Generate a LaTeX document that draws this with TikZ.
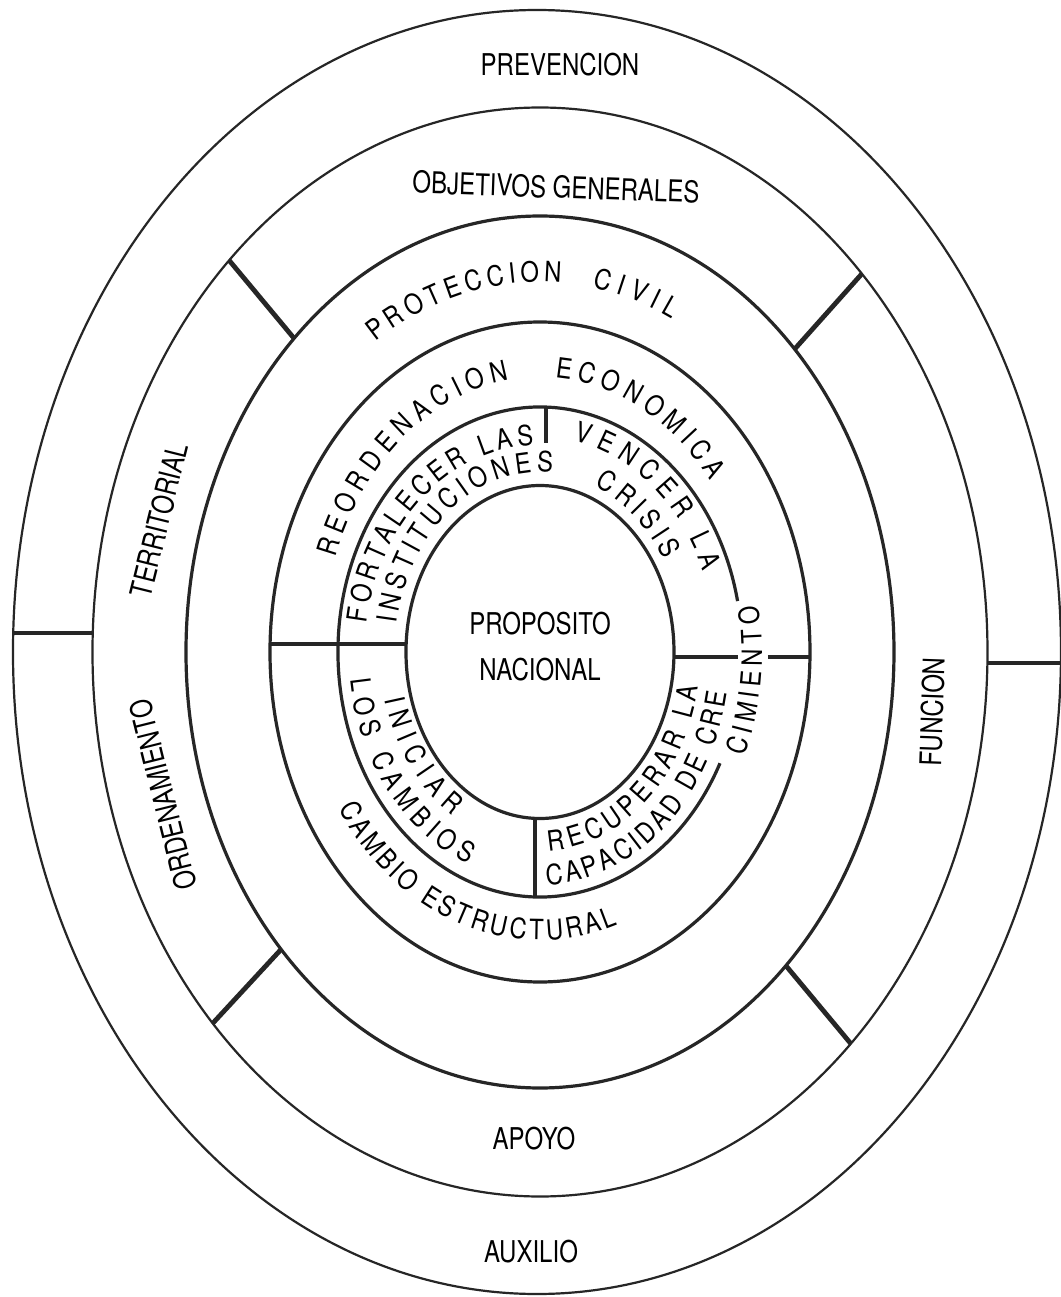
\documentclass[tikz,border=0pt]{standalone}
\usepackage{fontspec}
\newfontfamily\narrowfont[FakeStretch=0.8]{TeX Gyre Heros}
\newfontfamily\ringfont[FakeStretch=0.85]{TeX Gyre Heros}
\usetikzlibrary{decorations.text}
\newcommand\ringsize{\ringfont\fontsize{14}{16}\selectfont}
% text on an elliptic arc: x radius, y radius, start, end, text
\newcommand\ringtext[5]{%
  \path[decorate,decoration={text along path,text align=fit to path,
      text format delimiters={|}{|},text={|\ringsize|#5}}]
    (#3:#1 and #2) arc[start angle=#3,end angle=#4,x radius=#1,y radius=#2];}

\begin{document}
\begin{tikzpicture}[x=0.5pt,y=0.5pt,
  thin ring/.style={draw=black!85,line width=1.1pt},
  thick ring/.style={draw=black!85,line width=1.6pt},
  divider/.style={draw=black!85,line width=2.4pt},
  label/.style={font=\narrowfont\fontsize{15}{17}\selectfont,inner sep=0pt}]
  \useasboundingbox[fill=white] (-540,-645) rectangle (521,652);
  % rings
  \draw[thin ring] (-3,0) ellipse[x radius=524,y radius=642];
  \draw[thin ring] (0,0) ellipse[x radius=447.5,y radius=544.5];
  \draw[thick ring] (0,0) ellipse[x radius=354,y radius=436];
  \draw[thick ring] (0,0) ellipse[x radius=270,y radius=330];
  \draw[thick ring] (12:202 and 245) arc[start angle=12,end angle=333,x radius=202,y radius=245];
  \draw[thick ring] (0,0) ellipse[x radius=134,y radius=166.5];
  % dividers
  \draw[divider] (-527,19) -- (-448,19);
  \draw[divider] (447,-11) -- (521,-11);
  \foreach \a in {44,134,223,314}
    \draw[divider] (\a:447.5 and 544.5) -- (\a:354 and 436);
  \draw[divider] (-270,8) -- (-134,8);
  \draw[divider] (135,-5) -- (198,-5);
  \draw[divider] (228,-5) -- (270,-5);
  \draw[divider] (6,245) -- (6,209);
  \draw[divider] (-5,-166) -- (-5,-245);
  % straight labels
  \node[label] (prev) at (20,587) {PREVENCION};
  \node[label,rotate=-2] (obj) at (16,465) {OBJETIVOS GENERALES};
  \node[label,rotate=76] (terr) at (-381,132) {TERRITORIAL};
  \node[label,rotate=104] (orden) at (-377,-143) {ORDENAMIENTO};
  \node[label,rotate=88] (func) at (392,-60) {FUNCION};
  \node[label] (apoyo) at (-6,-487) {APOYO};
  \node[label] (aux) at (-9,-600) {AUXILIO};
  \node[label] (prop) at (0,28) {PROPOSITO};
  \node[label] (nac) at (0,-18) {NACIONAL};
  % curved labels
  \ringtext{302}{370}{123}{86}{PROTECCION}
  \ringtext{302}{370}{80}{64}{CIVIL}
  \ringtext{218}{275}{160}{98}{REORDENACION}
  \ringtext{218}{275}{86}{38.5}{ECONOMICA}
  \ringtext{240}{288}{213}{289}{CAMBIO ESTRUCTURAL}
  \ringtext{175}{207}{172}{92}{FORTALECER LAS}
  \ringtext{145}{180}{171}{85}{INSTITUCIONES}
  \ringtext{176}{215}{79}{22}{VENCER LA}
  \ringtext{145}{179}{68}{31}{CRISIS}
  \ringtext{160}{195}{194}{237}{INICIAR}
  \ringtext{191}{229}{187}{248}{LOS CAMBIOS}
  \ringtext{161}{199}{273}{350}{RECUPERAR LA}
  \ringtext{190}{233}{272}{350}{CAPACIDAD DE CRE}
  \ringtext{222}{268}{337}{370}{CIMIENTO}
\end{tikzpicture}
\end{document}
